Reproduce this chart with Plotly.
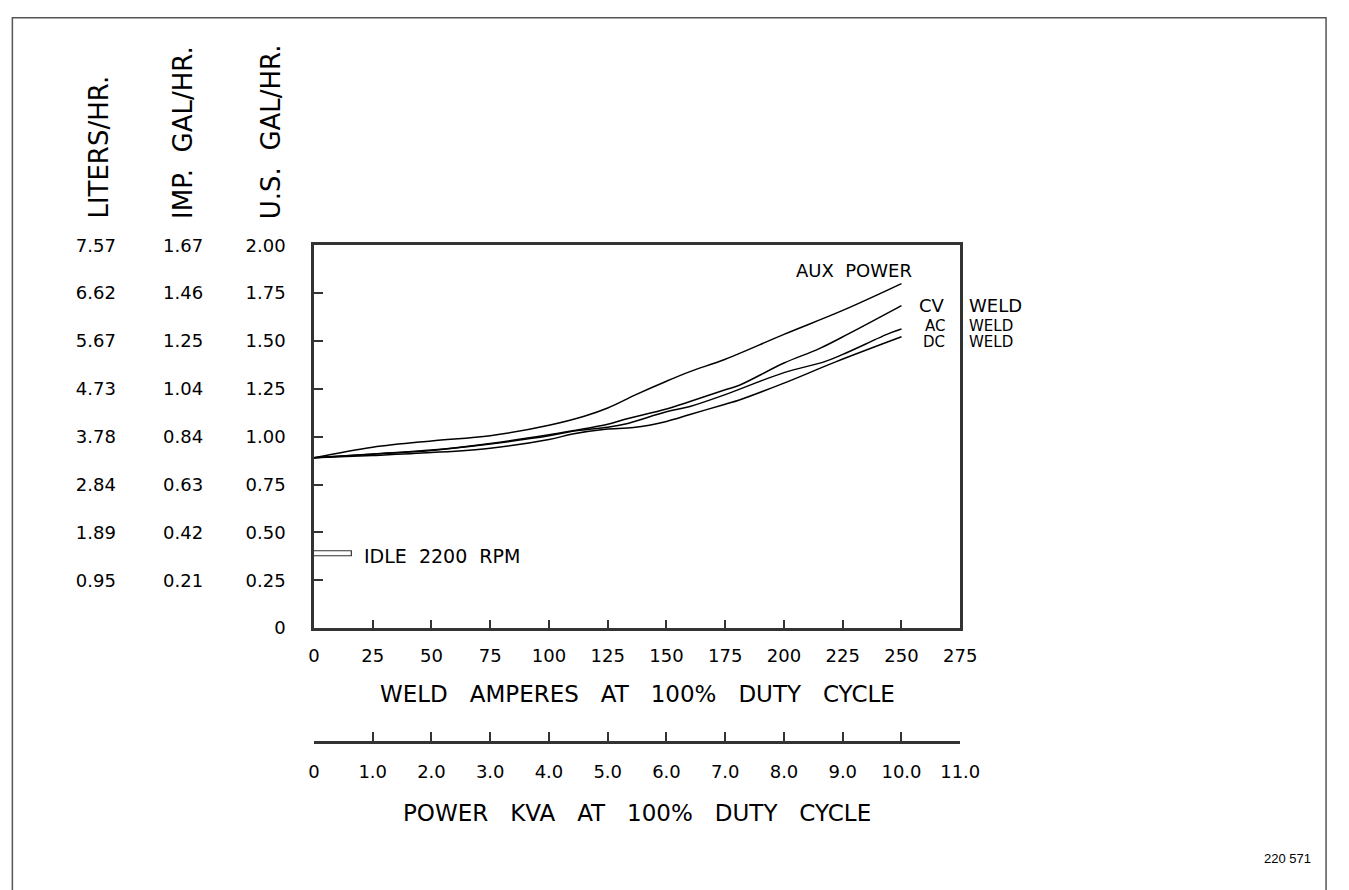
import plotly.graph_objects as go

# ---------------- data ----------------
aux_amps = [0, 25, 50, 75, 100, 115, 125, 137, 150, 160, 175, 200, 225, 250]
aux_gph = [0.89, 0.945, 0.978, 1.005, 1.06, 1.107, 1.15, 1.22, 1.29, 1.34, 1.405, 1.535, 1.66, 1.80]

cv_amps = [0, 25, 50, 75, 100, 110, 125, 132, 150, 160, 175, 181, 200, 215, 228, 250]
cv_gph = [0.89, 0.91, 0.93, 0.965, 1.01, 1.031, 1.065, 1.09, 1.145, 1.184, 1.245, 1.269, 1.385, 1.46, 1.541, 1.685]

ac_amps = [0, 25, 50, 75, 100, 110, 125, 132, 150, 160, 175, 200, 217, 225, 245, 250]
ac_gph = [0.89, 0.908, 0.928, 0.962, 1.005, 1.028, 1.05, 1.065, 1.13, 1.158, 1.22, 1.335, 1.391, 1.43, 1.541, 1.563]

dc_amps = [0, 25, 50, 75, 100, 110, 124, 136, 150, 160, 175, 181, 200, 222, 250]
dc_gph = [0.89, 0.902, 0.917, 0.94, 0.985, 1.014, 1.039, 1.048, 1.08, 1.116, 1.17, 1.192, 1.28, 1.391, 1.522]

idle_amps = 16
idle_gph = 0.39

amp_ticks = [0, 25, 50, 75, 100, 125, 150, 175, 200, 225, 250, 275]
kva_ticks = [0, 1, 2, 3, 4, 5, 6, 7, 8, 9, 10, 11]
kva_labels = ["0", "1.0", "2.0", "3.0", "4.0", "5.0", "6.0", "7.0", "8.0", "9.0", "10.0", "11.0"]
us_ticks = [0, 0.25, 0.5, 0.75, 1.0, 1.25, 1.5, 1.75, 2.0]
us_labels = ["0", "0.25", "0.50", "0.75", "1.00", "1.25", "1.50", "1.75", "2.00"]
imp_ticks = [0.25, 0.5, 0.75, 1.0, 1.25, 1.5, 1.75, 2.0]
imp_labels = ["0.21", "0.42", "0.63", "0.84", "1.04", "1.25", "1.46", "1.67"]
lit_ticks = [0.25, 0.5, 0.75, 1.0, 1.25, 1.5, 1.75, 2.0]
lit_labels = ["0.95", "1.89", "2.84", "3.78", "4.73", "5.67", "6.62", "7.57"]

# ---------------- layout helpers ----------------
W, H = 1349, 890
PL, PR, PT, PB = 314, 973, 240, 632  # plot area in pixels
KVA_LINE = 748
FONT = "DejaVu Sans"
NB = "\u00a0"


def px(x):
    return x / W


def py(y):
    return 1 - y / H


fig = go.Figure()

line_style = dict(color="black", width=1.5)
for xs, ys, name in [(aux_amps, aux_gph, "AUX POWER"), (cv_amps, cv_gph, "CV WELD"),
                     (ac_amps, ac_gph, "AC WELD"), (dc_amps, dc_gph, "DC WELD")]:
    fig.add_trace(go.Scatter(x=xs, y=ys, mode="lines", line=line_style, name=name,
                             showlegend=False, line_shape="spline", hoverinfo="skip"))

fig.add_trace(go.Bar(x=[idle_amps], y=[idle_gph], base=0, orientation="h", width=0.026,
                     marker=dict(color="white", line=dict(color="#333", width=1.2)),
                     showlegend=False, hoverinfo="skip"))

# invisible traces so the extra axes get drawn
fig.add_trace(go.Scatter(x=[0], y=[0], xaxis="x", yaxis="y2", mode="markers",
                         marker=dict(opacity=0), showlegend=False, hoverinfo="skip"))
fig.add_trace(go.Scatter(x=[0], y=[0], xaxis="x", yaxis="y3", mode="markers",
                         marker=dict(opacity=0), showlegend=False, hoverinfo="skip"))
fig.add_trace(go.Scatter(x=[0], y=[0], xaxis="x2", yaxis="y4", mode="markers",
                         marker=dict(opacity=0), showlegend=False, hoverinfo="skip"))

tick_font = dict(family=FONT, size=18, color="black")
xdom = [px(PL), px(PR)]
ydom = [py(PB), py(PT)]

fig.update_layout(
    width=W, height=H,
    margin=dict(l=0, r=0, t=0, b=0, pad=0),
    paper_bgcolor="white", plot_bgcolor="white",
    showlegend=False,
    bargap=0,
    hovermode=False,
    xaxis=dict(domain=xdom, range=[0, 275], tickvals=amp_ticks, ticks="inside", ticklen=8,
               tickwidth=2, tickcolor="#333", showline=True, linewidth=2.5, linecolor="#333",
               mirror=True, showgrid=False, zeroline=False, tickfont=tick_font,
               ticklabelstandoff=10, anchor="y"),
    yaxis=dict(domain=ydom, range=[0, 2], tickvals=us_ticks, ticktext=us_labels, ticks="inside",
               ticklen=9, tickwidth=2, tickcolor="#333", showline=True, linewidth=2.5,
               linecolor="#333", mirror=True, showgrid=False, zeroline=False, tickfont=tick_font,
               ticklabelstandoff=22, anchor="x"),
    yaxis2=dict(overlaying="y", anchor="free", position=px(201), range=[0, 2], tickvals=imp_ticks,
                ticktext=imp_labels, ticks="", showline=False, showgrid=False, zeroline=False,
                tickfont=tick_font, side="left"),
    yaxis3=dict(overlaying="y", anchor="free", position=px(112), range=[0, 2], tickvals=lit_ticks,
                ticktext=lit_labels, ticks="", showline=False, showgrid=False, zeroline=False,
                tickfont=tick_font, side="left"),
    # KVA ruler: its own thin subplot so the ticks point up from the line
    xaxis2=dict(domain=xdom, anchor="y4", range=[0, 11], tickvals=kva_ticks,
                ticktext=kva_labels, ticks="inside", ticklen=10, tickwidth=2, tickcolor="#333",
                showline=True, linewidth=2.5, linecolor="#333", showgrid=False, zeroline=False,
                tickfont=tick_font, side="bottom", ticklabelstandoff=12),
    yaxis4=dict(domain=[py(KVA_LINE), py(KVA_LINE - 12)], anchor="x2", range=[0, 1],
                visible=False, showgrid=False, zeroline=False),
)

ann = []


def add_text(text, x, y, size=18, xanchor="center", yanchor="middle", angle=0, family=FONT):
    ann.append(dict(text=text, x=px(x), y=py(y), xref="paper", yref="paper", showarrow=False,
                    xanchor=xanchor, yanchor=yanchor, textangle=angle,
                    font=dict(family=family, size=size, color="black")))


sp3 = NB * 3
add_text(sp3.join(["WELD", "AMPERES", "AT", "100%", "DUTY", "CYCLE"]), 643.5, 699, size=23)
add_text(sp3.join(["POWER", "KVA", "AT", "100%", "DUTY", "CYCLE"]), 643.5, 821, size=23)
add_text("LITERS/HR.", 95, 215, size=26, yanchor="bottom", angle=-90)
add_text("IMP." + NB * 2 + "GAL/HR.", 181, 215, size=26, yanchor="bottom", angle=-90)
add_text("U.S." + NB * 2 + "GAL/HR.", 271, 215, size=26, yanchor="bottom", angle=-90)
add_text("AUX" + NB * 2 + "POWER", 803, 266, xanchor="left")
add_text("CV", 960, 302, xanchor="right")
add_text("WELD", 980, 302, xanchor="left")
for lab, yy in [("AC", 323), ("DC", 339)]:
    add_text(lab, 960, yy, size=15, xanchor="right")
    add_text("WELD", 980, yy, size=15, xanchor="left")
add_text("IDLE" + NB * 2 + "2200" + NB * 2 + "RPM", 363, 558, size=19, xanchor="left")
add_text("220 571", 1333, 868, size=13, xanchor="right", family="Liberation Sans")

fig.update_layout(annotations=ann)

# outer drawing frame (open at the bottom, as in the scan)
fig.add_shape(type="rect", xref="paper", yref="paper", x0=px(6.5), x1=px(1346), y0=-0.05,
              y1=py(7), line=dict(color="#555", width=1.5), fillcolor="rgba(0,0,0,0)")

fig.write_html(
    "out.html",
    config={"displayModeBar": False},
    post_script="document.body.style.margin='0';document.body.style.padding='0';"
                "document.body.style.overflow='hidden';"
                "document.documentElement.style.overflow='hidden';",
)
